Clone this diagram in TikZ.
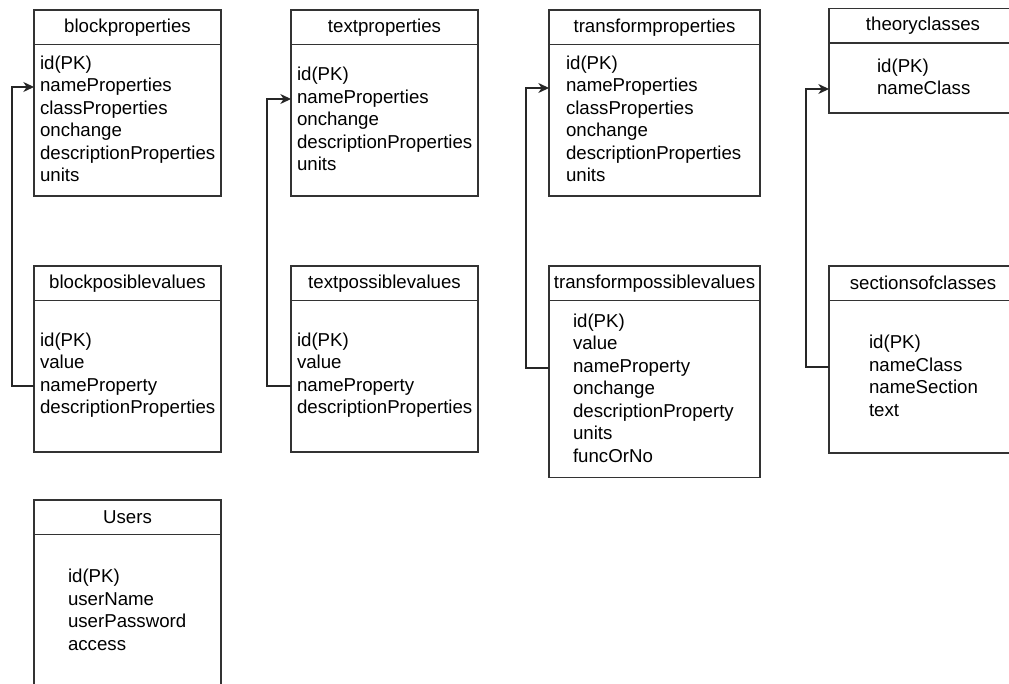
\documentclass[tikz,border=0pt]{standalone}
\usepackage{fontspec}
\setmainfont{Liberation Sans}
\usetikzlibrary{arrows.meta,positioning}
\tikzset{
    every node/.style={font=\fontsize{14}{16.875}\selectfont, inner sep=0pt, outer sep=0pt},
    head/.style={draw=black!80, line width=0.9pt, anchor=north west,
        minimum width=#1*0.75pt, minimum height=34.5*0.75pt},
    body/.style={draw=black!80, line width=0.9pt, anchor=north west,
        minimum width=#1*0.75pt},
    fields/.style={align=left, anchor=west},
    link/.style={draw=black!85, line width=0.9pt, -{Stealth[length=8pt,width=7.5pt,inset=2.5pt]}}
}
\begin{document}
\begin{tikzpicture}[x=0.75pt,y=-0.75pt]
    \useasboundingbox (0,0) rectangle (1009,684);
    % block tables
    \node[head=187] (bphd) at (34,10) {blockproperties};
    \node[body=187, minimum height=151.5*0.75pt] (bpbd) at (bphd.south west) {};
    \node[fields] (bpfl) at (40,119) {id(PK)\\nameProperties\\classProperties\\onchange\\descriptionProperties\\units};
    \node[head=187] (bvhd) at (34,266) {blockposiblevalues};
    \node[body=187, minimum height=151.5*0.75pt] (bvbd) at (bvhd.south west) {};
    \node[fields] (bvfl) at (40,375) {id(PK)\\value\\nameProperty\\descriptionProperties};
    % text tables
    \node[head=187] (tphd) at (291,10) {textproperties};
    \node[body=187, minimum height=151.5*0.75pt] (tpbd) at (tphd.south west) {};
    \node[fields] (tpfl) at (297,119) {id(PK)\\nameProperties\\onchange\\descriptionProperties\\units};
    \node[head=187] (tvhd) at (291,266) {textpossiblevalues};
    \node[body=187, minimum height=151.5*0.75pt] (tvbd) at (tvhd.south west) {};
    \node[fields] (tvfl) at (297,375) {id(PK)\\value\\nameProperty\\descriptionProperties};
    % transform tables
    \node[head=211] (rphd) at (549,10) {transformproperties};
    \node[body=211, minimum height=151.5*0.75pt] (rpbd) at (rphd.south west) {};
    \node[fields] (rpfl) at (566,119) {id(PK)\\nameProperties\\classProperties\\onchange\\descriptionProperties\\units};
    \node[head=211] (rvhd) at (549,266) {transformpossiblevalues};
    \node[body=211, minimum height=177*0.75pt] (rvbd) at (rvhd.south west) {};
    \node[fields] (rvfl) at (573,388) {id(PK)\\value\\nameProperty\\onchange\\descriptionProperty\\units\\funcOrNo};
    % theory tables
    \node[head=188] (tchd) at (829,8.5) {theoryclasses};
    \node[body=188, minimum height=70*0.75pt] (tcbd) at (tchd.south west) {};
    \node[fields] (tcfl) at (877,77) {id(PK)\\nameClass};
    \node[head=188] (schd) at (829,266) {sectionsofclasses};
    \node[body=188, minimum height=152.5*0.75pt] (scbd) at (schd.south west) {};
    \node[fields] (scfl) at (869,376) {id(PK)\\nameClass\\nameSection\\text};
    % users
    \node[head=187] (ushd) at (34,500) {Users};
    \node[body=187, minimum height=220*0.75pt] (usbd) at (ushd.south west) {};
    \node[fields] (usfl) at (68,610) {id(PK)\\userName\\userPassword\\access};
    % links
    \draw[link] (bvbd.west |- 0,386) -- ++(-22,0) |- (bpbd.west |- 0,87);
    \draw[link] (tvbd.west |- 0,386) -- ++(-24,0) |- (tpbd.west |- 0,99);
    \draw[link] (rvbd.west |- 0,368) -- ++(-23,0) |- (rpbd.west |- 0,88);
    \draw[link] (scbd.west |- 0,367) -- ++(-23,0) |- (tcbd.west |- 0,89);
\end{tikzpicture}
\end{document}
